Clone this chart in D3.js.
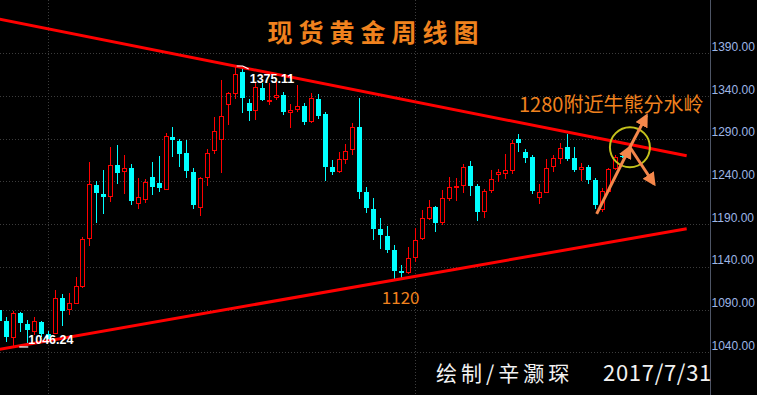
<!DOCTYPE html>
<html>
<head>
<meta charset="utf-8">
<script src="https://cdn.jsdelivr.net/npm/d3@7/dist/d3.min.js"></script>
<style>
html, body { margin: 0; padding: 0; background: #000; }
svg { display: block; }
</style>
</head>
<body>
<svg width="757" height="395"></svg>
<script>
// weekly spot gold, one candle per week
var opens = [1089.5, 1077, 1058.3, 1086, 1073.1, 1064.6, 1075.5, 1061.4, 1063, 1103.2,
  1090.3, 1098, 1118, 1173.4, 1235.8, 1225.3, 1223.3, 1258.9, 1251.9, 1255.7,
  1214.4, 1219.1, 1245.2, 1238.2, 1231.5, 1292, 1287.4, 1273, 1251, 1209.7,
  1245.6, 1277.2, 1290.1, 1330.3, 1343.2, 1367.8, 1331.8, 1323.3, 1349.4, 1334.2,
  1339.2, 1340.8, 1321, 1325.2, 1328.3, 1310.4, 1336.5, 1319, 1257, 1251.9,
  1266, 1277.6, 1303.7, 1227.6, 1207.7, 1184.3, 1176.1, 1159.7, 1134.8, 1134.4,
  1151.2, 1173.4, 1197.6, 1210.4, 1192.9, 1220.3, 1233.1, 1235.5, 1258.1, 1235,
  1205.8, 1229.6, 1249.1, 1250.2, 1253.4, 1289.7, 1274.1, 1268.6, 1222.2, 1228,
  1257.7, 1267.8, 1280, 1267, 1255, 1257, 1241.7, 1207.4, 1229.2, 1255.4, 1270.1];
var highs = [1093, 1081.7, 1088.7, 1087.5, 1077.8, 1081, 1077, 1065, 1113, 1108.2,
  1109, 1127.8, 1174.6, 1262.4, 1240, 1253.4, 1280, 1282.3, 1270.6, 1260.1,
  1244.4, 1242.9, 1262.8, 1269.4, 1296.7, 1303.4, 1289.7, 1288.5, 1255.7, 1245.2,
  1278, 1315, 1358.8, 1344.3, 1375.11, 1371.3, 1336.5, 1355.6, 1354.8, 1354.8,
  1358.8, 1344.3, 1330.3, 1352.5, 1331.5, 1343.9, 1342.7, 1321, 1265.1, 1274.1,
  1283.8, 1308.4, 1338, 1233.5, 1221, 1197.2, 1187.8, 1165.6, 1142.2, 1163.3,
  1185.9, 1206.6, 1218.3, 1211, 1230, 1244.9, 1243.7, 1260.4, 1264.3, 1236.7,
  1231.5, 1253.4, 1254.2, 1271.8, 1288.5, 1295.2, 1278, 1271, 1236.7, 1266.3,
  1270.9, 1284.7, 1295.2, 1280.3, 1261.2, 1259.3, 1243.7, 1232, 1256.1, 1271, 1272.1];
var lows = [1073, 1052.4, 1046.24, 1063.8, 1050.9, 1060.3, 1058, 1052, 1062, 1071.1,
  1083.7, 1097, 1115, 1164.8, 1190.8, 1202, 1216.3, 1237, 1225.7, 1212.8,
  1208.1, 1215, 1224.5, 1228, 1230, 1269, 1257, 1244, 1207.7, 1200,
  1235, 1272.5, 1250.2, 1305.7, 1336.2, 1320.5, 1311.1, 1312, 1333.7, 1329.5,
  1335.3, 1317.8, 1302.9, 1321.6, 1306.4, 1308.1, 1312.7, 1240.9, 1247.2, 1250.2,
  1261, 1271.3, 1219.1, 1203.4, 1171.5, 1161.3, 1156.6, 1124.6, 1126.6, 1132,
  1146.1, 1171.5, 1195, 1181.2, 1189, 1217.1, 1217.5, 1226.8, 1223.3, 1194.1,
  1197.6, 1226.8, 1239.7, 1242.9, 1248.4, 1274.8, 1261.2, 1225.7, 1213.6, 1226.5,
  1250.7, 1260, 1264, 1251.4, 1240.9, 1237, 1207.7, 1204, 1228, 1253.4, 1267.1];
var closes = [1076.6, 1058.3, 1085.6, 1074.6, 1066.1, 1076.3, 1061.4, 1055.6, 1103.2, 1088.7,
  1097.4, 1117.6, 1172.6, 1237, 1226.8, 1222.2, 1258.9, 1250.3, 1255.4, 1217.5,
  1221.4, 1239, 1233.9, 1232.7, 1292.8, 1288.5, 1272.5, 1252.2, 1212.4, 1244,
  1273, 1298.7, 1316.3, 1343.5, 1365.8, 1338, 1322.5, 1350.2, 1335.4, 1335.7,
  1341.6, 1321.6, 1323.5, 1328, 1309.6, 1337.3, 1316.6, 1257.3, 1250.7, 1266,
  1275.6, 1303.4, 1228, 1209.3, 1184.3, 1177.3, 1159.7, 1135.5, 1133.2, 1150,
  1171.5, 1196.9, 1209.7, 1191.7, 1220.3, 1233.1, 1234.7, 1256.6, 1235, 1204.6,
  1228.5, 1242.9, 1251.4, 1253.4, 1285, 1284.7, 1267.8, 1229.2, 1227.3, 1255.4,
  1267, 1278.8, 1266, 1253.4, 1257.3, 1241.7, 1212.4, 1228.8, 1254.6, 1268.3, 1269];

var yTicks = [1040, 1090, 1140, 1190, 1240, 1290, 1340, 1390];
var yearStarts = [7, 60];            // first week of 2016 and 2017
var upperLine = [[0, 1430], [99.3, 1270]];
var lowerLine = [[0, 1043.5], [99.3, 1184.7]];
var hiMark = {i: 34, v: 1375.11, text: "1375.11"};
var loMark = {i: 2, v: 1046.24, text: "1046.24"};
var watershed = {i: 91.1, v: 1280};
var arrows = [
  [[86.3, 1202], [91.1, 1280]],
  [[91.1, 1280], [93.5, 1317]],
  [[91.1, 1280], [94.6, 1237]]
];
var lowNote = {i: 58, v: 1103, text: "1120"};

var loadVis = function() {
    var svg = d3.select("svg"),
        width = +svg.attr("width"),
        height = +svg.attr("height");

    var axisX = 710.5;

    var x = d3.scaleLinear().domain([0, 90]).range([-0.6, 622.3]);
    var y = d3.scaleLinear().domain([1040, 1390]).range([352.3, 53.3]);

    svg.append("rect").attr("width", width).attr("height", height).attr("fill", "#000");

    // grid
    svg.append("g").selectAll("line")
        .data(yTicks).enter().append("line")
            .attr("x1", 0).attr("x2", axisX)
            .attr("y1", function(d) { return Math.round(y(d)) + 0.5; })
            .attr("y2", function(d) { return Math.round(y(d)) + 0.5; })
            .style("stroke", "#3c3c3c")
            .style("stroke-dasharray", "1,2");

    svg.append("g").selectAll("line")
        .data(yearStarts).enter().append("line")
            .attr("x1", function(d) { return Math.round(x(d)) + 0.5; })
            .attr("x2", function(d) { return Math.round(x(d)) + 0.5; })
            .attr("y1", 0).attr("y2", height)
            .style("stroke", "#3c3c3c")
            .style("stroke-dasharray", "1,2");

    // right axis
    svg.append("line")
        .attr("x1", axisX).attr("x2", axisX).attr("y1", 0).attr("y2", height)
        .style("stroke", "#4e5566");

    svg.append("g").selectAll("text")
        .data(yTicks).enter().append("text")
            .attr("x", axisX + 1)
            .attr("y", function(d) { return y(d) - 2.5; })
            .attr("font-family", "Liberation Sans, Arial, sans-serif")
            .attr("font-size", 12)
            .attr("fill", "#9db6e6")
            .text(function(d) { return d3.format(".2f")(d); });

    // candles
    var candles = opens.map(function(o, i) {
        return {i: i, o: o, h: highs[i], l: lows[i], c: closes[i]};
    });

    var cg = svg.append("g").attr("class", "candles").attr("shape-rendering", "crispEdges");

    candles.forEach(function(d) {
        var cx = Math.round(x(d.i));
        var up = d.c >= d.o;
        var top = Math.round(y(Math.max(d.o, d.c)));
        var bot = Math.round(y(Math.min(d.o, d.c)));
        var yh = Math.round(y(d.h)), yl = Math.round(y(d.l));
        if (up) {
            if (bot - top < 1) bot = top + 1;
            cg.append("line").attr("x1", cx + 0.5).attr("x2", cx + 0.5)
                .attr("y1", yh).attr("y2", top).style("stroke", "#ff0000");
            cg.append("line").attr("x1", cx + 0.5).attr("x2", cx + 0.5)
                .attr("y1", bot + 1).attr("y2", yl).style("stroke", "#ff0000");
            cg.append("rect")
                .attr("x", cx - 1.5).attr("y", top + 0.5)
                .attr("width", 4).attr("height", bot - top)
                .style("fill", "#000").style("stroke", "#ff0000");
        } else {
            cg.append("line").attr("x1", cx + 0.5).attr("x2", cx + 0.5)
                .attr("y1", yh).attr("y2", yl).style("stroke", "#00ffff");
            cg.append("rect")
                .attr("x", cx - 2).attr("y", top)
                .attr("width", 5).attr("height", Math.max(bot - top, 1))
                .style("fill", "#00ffff");
        }
    });

    // triangle lines
    var line = d3.line()
        .x(function(d) { return x(d[0]); })
        .y(function(d) { return y(d[1]); });

    svg.append("g").selectAll("path")
        .data([upperLine, lowerLine]).enter().append("path")
            .attr("d", line)
            .style("fill", "none")
            .style("stroke", "#ff0000")
            .style("stroke-width", 3);

    // high / low labels
    [hiMark, loMark].forEach(function(m, k) {
        var px = x(m.i), py = y(m.v);
        if (k === 0) {
            svg.append("path")
                .attr("d", "M" + (px + 2) + "," + py + "h6l6,3")
                .style("fill", "none").style("stroke", "#fff").style("stroke-width", 1.2);
            svg.append("text").attr("x", px + 15).attr("y", py + 17)
                .attr("font-family", "Liberation Sans, Arial, sans-serif")
                .attr("font-size", 12.5).attr("font-weight", "bold")
                .attr("fill", "#fff").text(m.text);
        } else {
            svg.append("line")
                .attr("x1", px + 6).attr("x2", px + 15).attr("y1", py).attr("y2", py)
                .style("stroke", "#fff").style("stroke-width", 1.2);
            svg.append("text").attr("x", px + 15).attr("y", py - 3)
                .attr("font-family", "Liberation Sans, Arial, sans-serif")
                .attr("font-size", 12.5).attr("font-weight", "bold")
                .attr("fill", "#fff").text(m.text);
        }
    });

    // watershed circle and arrows
    var orange = "#f4874b";
    var defs = svg.append("defs");
    defs.append("marker")
        .attr("id", "head")
        .attr("viewBox", "0 0 10 10")
        .attr("refX", 8).attr("refY", 5)
        .attr("markerWidth", 4.5).attr("markerHeight", 4.5)
        .attr("markerUnits", "strokeWidth")
        .attr("orient", "auto")
      .append("path")
        .attr("d", "M0,0L10,5L0,10z")
        .attr("fill", orange);

    svg.append("circle")
        .attr("cx", x(watershed.i)).attr("cy", y(watershed.v))
        .attr("r", 20)
        .style("fill", "none").style("stroke", "#c4c21c").style("stroke-width", 2);

    svg.append("g").selectAll("path")
        .data(arrows).enter().append("path")
            .attr("d", line)
            .style("stroke", orange)
            .style("stroke-width", 3)
            .attr("marker-end", "url(#head)");

    // texts
    svg.append("text")
        .attr("x", 376).attr("y", 42)
        .attr("text-anchor", "middle")
        .attr("font-family", "Noto Sans CJK SC, sans-serif")
        .attr("font-size", 25).attr("font-weight", "bold")
        .attr("letter-spacing", 6)
        .attr("fill", "#f0821e")
        .text("现货黄金周线图");

    svg.append("text")
        .attr("x", 519).attr("y", 112)
        .attr("font-family", "Noto Sans CJK SC, sans-serif")
        .attr("font-size", 20)
        .attr("fill", "#f0821e")
        .text("1280附近牛熊分水岭");

    svg.append("text")
        .attr("x", x(lowNote.i) - 19).attr("y", y(lowNote.v) + 6)
        .attr("font-family", "Noto Sans CJK SC, sans-serif")
        .attr("font-size", 17)
        .attr("fill", "#f0821e")
        .text(lowNote.text);

    svg.append("text")
        .attr("x", 436).attr("y", 381)
        .attr("font-family", "Noto Sans CJK SC, sans-serif")
        .attr("font-size", 21)
        .attr("letter-spacing", 4)
        .attr("fill", "#f2f2f2")
        .text("绘制/辛灏琛");

    svg.append("text")
        .attr("x", 603).attr("y", 381)
        .attr("font-family", "Noto Sans CJK SC, sans-serif")
        .attr("font-size", 22)
        .attr("letter-spacing", 0.7)
        .attr("fill", "#f2f2f2")
        .text("2017/7/31");
}

document.addEventListener('DOMContentLoaded', loadVis, false);
</script>
</body>
</html>
